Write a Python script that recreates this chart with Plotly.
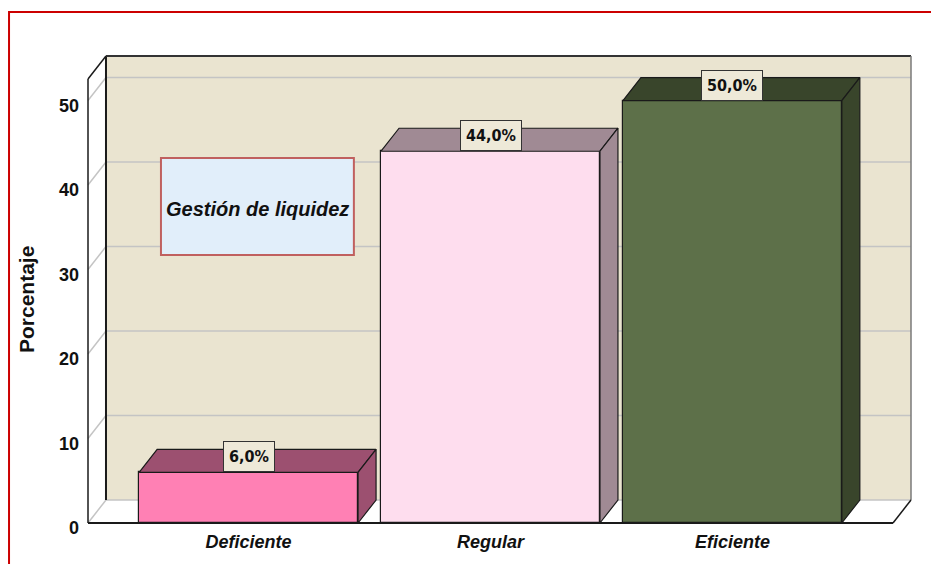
import plotly.graph_objects as go

# ---- data ----
categories = ["Deficiente", "Regular", "Eficiente"]
values = [6.0, 44.0, 50.0]
y_ticks = [0, 10, 20, 30, 40, 50]
axis_title = "Porcentaje"
box_title = "Gestión de liquidez"

# ---- styles ----
front_colors = ["#FF80B4", "#FEDDEE", "#5D7049"]
dark_colors = ["#9C5070", "#A08A94", "#39452B"]
wall_color = "#EAE4D0"
grid_color = "#C4C4C4"
edge = "#1A1A1A"

# ---- geometry ----
W, H = 939, 564
OFF = 8                              # page body margin (screen px - figure px)
PXU_X, PXU_Y = 242.0, 8.45          # pixels per axis unit
X0, X1 = -0.664, 2.664               # front floor extent (x units)
YTOP = 52.55                         # front top of the y axis
DX, DY = 18 / PXU_X, 23 / PXU_Y      # 3D depth offset
BW = 0.905                           # bar width
PAD = 6                              # pixel padding around the box

front_left_px, front_bottom_px = 88 - OFF, 523 - OFF
plot_l = front_left_px - PAD
plot_b = front_bottom_px + PAD
xr = [X0 - PAD / PXU_X, X1 + DX + PAD / PXU_X]
yr = [-PAD / PXU_Y, YTOP + DY + PAD / PXU_Y]
plot_w = (xr[1] - xr[0]) * PXU_X
plot_h = (yr[1] - yr[0]) * PXU_Y
plot_t = plot_b - plot_h
plot_r = plot_l + plot_w


def dx(sx):
    return X0 + (sx - OFF - front_left_px) / PXU_X


def dy(sy):
    return (front_bottom_px - (sy - OFF)) / PXU_Y


def paper_x(sx):
    return (sx - OFF - plot_l) / plot_w


def paper_y(sy):
    return (plot_b - (sy - OFF)) / plot_h


shapes = []


def line(x0, y0, x1, y1, color, width, layer="below"):
    shapes.append(dict(type="line", x0=x0, y0=y0, x1=x1, y1=y1, xref="x", yref="y",
                       line=dict(color=color, width=width), layer=layer))


# back wall
shapes.append(dict(type="rect", x0=X0 + DX, x1=X1 + DX, y0=DY, y1=YTOP + DY,
                   xref="x", yref="y", fillcolor=wall_color, line=dict(width=0), layer="below"))
# gridlines on back wall + diagonals on left wall
for v in y_ticks:
    line(X0 + DX, v + DY, X1 + DX, v + DY, grid_color, 1.5)
    line(X0, v, X0 + DX, v + DY, grid_color, 1.5)
# wall edges
line(X0 + DX, DY, X0 + DX, YTOP + DY, edge, 2)
line(X0 + DX, YTOP + DY, X1 + DX, YTOP + DY, "#333333", 2)
line(X1 + DX, DY, X1 + DX, YTOP + DY, "#7A7A7A", 1.5)
line(X0, YTOP, X0 + DX, YTOP + DY, edge, 1.5)
line(X0, 0, X0, YTOP, edge, 1.5)
line(X0, 0, X1, 0, edge, 2.2)
line(X1, 0, X1 + DX, DY, edge, 1.5)

fig = go.Figure()

# 3D faces (top and right side) computed from the values
for i, (c, v) in enumerate(zip(categories, values)):
    xl, xrgt = i - BW / 2, i + BW / 2
    top_x = [xl, xl + DX, xrgt + DX, xrgt, xl]
    top_y = [v, v + DY, v + DY, v, v]
    side_x = [xrgt, xrgt + DX, xrgt + DX, xrgt, xrgt]
    side_y = [0, DY, v + DY, v, 0]
    for fx, fy in ((top_x, top_y), (side_x, side_y)):
        fig.add_trace(go.Scatter(x=fx, y=fy, mode="lines", fill="toself",
                                 fillcolor=dark_colors[i],
                                 line=dict(color=edge, width=1.2),
                                 hoverinfo="skip", showlegend=False))

# front faces
fig.add_trace(go.Bar(x=list(range(len(categories))), y=values, width=BW,
                     marker=dict(color=front_colors, line=dict(color=edge, width=1.2)),
                     showlegend=False, hovertext=categories))

annotations = []
for i, v in enumerate(values):
    annotations.append(dict(
        x=i, y=v, xref="x", yref="y", yanchor="bottom", xanchor="center",
        text=f"{v:.1f}".replace(".", ",") + "%", showarrow=False,
        font=dict(family="DejaVu Sans Condensed, Liberation Sans Narrow, Liberation Sans, Arial",
                  size=16, color="#111111", weight="bold"),
        bgcolor="#EEE9D8", bordercolor="#333333", borderwidth=1, borderpad=5))

# legend-like title box
shapes.append(dict(type="rect", x0=dx(161), x1=dx(354), y0=dy(255), y1=dy(158),
                   xref="x", yref="y", fillcolor="#E1EEFA",
                   line=dict(color="#C0605F", width=2), layer="above"))
annotations.append(dict(x=dx(258), y=dy(209), xref="x", yref="y", text=box_title,
                        showarrow=False, xanchor="center", yanchor="middle",
                        font=dict(family="Liberation Sans, Arial", size=20, color="#111111",
                                  weight="bold", style="italic")))
# axis title
annotations.append(dict(x=paper_x(26), y=paper_y(300), xref="paper", yref="paper",
                        text=axis_title, textangle=-90, showarrow=False,
                        xanchor="center", yanchor="middle",
                        font=dict(family="Liberation Sans, Arial", size=21, color="#111111",
                                  weight="bold")))
# outer red frame
shapes.append(dict(type="rect", xref="paper", yref="paper",
                   x0=paper_x(9), x1=paper_x(960), y0=paper_y(590), y1=paper_y(12),
                   line=dict(color="#CC0000", width=2), fillcolor="rgba(0,0,0,0)"))

fig.update_layout(
    width=W, height=H,
    margin=dict(l=plot_l, r=W - plot_r, t=plot_t, b=H - plot_b, pad=0),
    paper_bgcolor="white", plot_bgcolor="white",
    shapes=shapes, annotations=annotations,
    bargap=0, showlegend=False,
    xaxis=dict(range=xr, tickvals=list(range(len(categories))), ticktext=categories,
               showgrid=False, zeroline=False, showline=False, ticks="",
               tickfont=dict(family="Liberation Sans, Arial", size=18, color="#111111",
                             weight="bold", style="italic"),
               ticklabelstandoff=0, fixedrange=True),
    yaxis=dict(range=yr, tickvals=y_ticks, ticktext=[str(t) for t in y_ticks],
               showgrid=False, zeroline=False, showline=False, ticks="",
               tickfont=dict(family="Liberation Sans, Arial", size=18, color="#111111",
                             weight="bold"),
               ticklabelstandoff=2, ticklabelshift=5, fixedrange=True),
)

fig.write_html("out.html")
